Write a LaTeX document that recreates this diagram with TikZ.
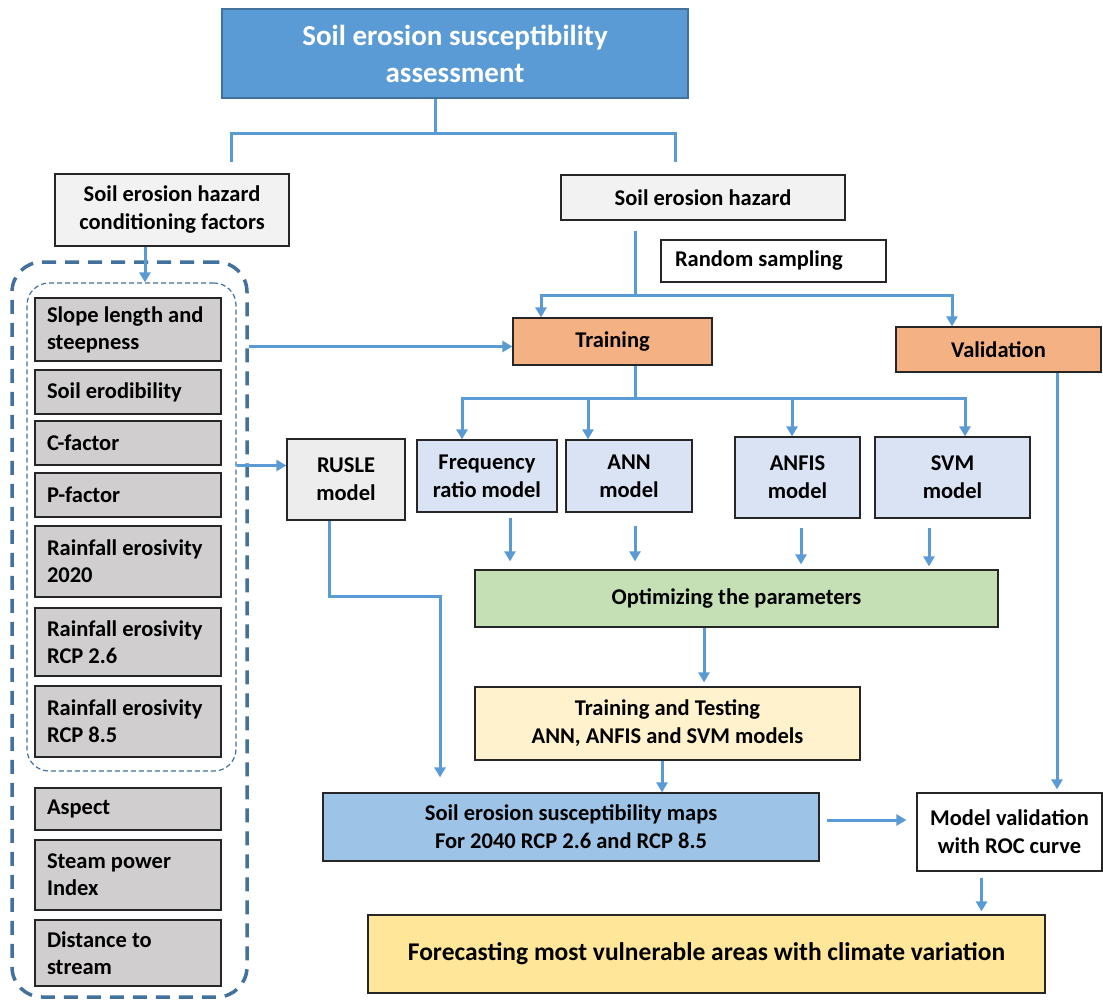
\documentclass[tikz,border=0pt]{standalone}
\usepackage{fontspec}
\setmainfont{Carlito}
\usetikzlibrary{arrows.meta}
\definecolor{titleblue}{HTML}{5B9BD5}
\definecolor{linkblue}{HTML}{5B9BD5}
\definecolor{dashblue}{HTML}{41719C}
\definecolor{factorgrey}{HTML}{D0CECE}
\definecolor{modelblue}{HTML}{DAE3F3}
\definecolor{orangebox}{HTML}{F4B183}
\definecolor{greenbox}{HTML}{C5E0B4}
\definecolor{creambox}{HTML}{FFF2CC}
\definecolor{mapblue}{HTML}{9DC3E6}
\definecolor{goldbox}{HTML}{FFE699}
\begin{document}
\begin{tikzpicture}[x=1pt, y=-1pt, font=\bfseries\fontsize{22.5}{28}\selectfont]
        \tikzstyle{box} = [draw=black!85, line width=1.2pt, rectangle, inner sep=0pt, align=flush center];
        \tikzstyle{factor} = [box, fill=factorgrey, minimum width=186pt, text width=162pt, align=flush left, font=\bfseries\fontsize{22.5}{27}\selectfont];
        \tikzstyle{model} = [box, fill=modelblue];
        \tikzstyle{link} = [draw=linkblue, line width=3pt];
        \tikzstyle{arrow} = [link, -{Triangle[length=10pt, width=11pt]}];

        \useasboundingbox (0,0) rectangle (1103,999);

        % top of the chart
        \node(title)[box, draw=dashblue, fill=titleblue, text=white, minimum width=466pt, minimum height=89pt, font=\bfseries\fontsize{29}{37}\selectfont] at (455,53.5) {Soil erosion susceptibility\\assessment};
        \node(factors)[box, fill=black!5, minimum width=234pt, minimum height=72pt] at (172,210) {Soil erosion hazard\\conditioning factors};
        \node(hazard)[box, fill=black!5, minimum width=284pt, minimum height=45pt] at (703,197.5) {Soil erosion hazard};
        \node(sampling)[box, fill=white, minimum width=225pt, minimum height=42pt, text width=197pt, align=flush left] at (773.5,261) {Random sampling};

        % conditioning factors
        \node(allfactors)[draw=dashblue, line width=3.5pt, dash pattern=on 14pt off 9pt, rounded corners=30pt, minimum width=235pt, minimum height=735pt] at (129.5,629.5) {};
        \node(inputs)[draw=dashblue, line width=1.2pt, dash pattern=on 5pt off 3pt, rounded corners=22pt, minimum width=209pt, minimum height=488pt] at (131.5,527) {};

        \node(slope)[factor, minimum height=63pt] at (128,329.5) {Slope length and\\steepness};
        \node(soil)[factor, minimum height=44pt] at (128,392) {Soil erodibility};
        \node(cfactor)[factor, minimum height=44pt] at (128,443) {C-factor};
        \node(pfactor)[factor, minimum height=44pt] at (128,495) {P-factor};
        \node(rain)[factor, minimum height=71pt] at (128,561.5) {Rainfall erosivity\\2020};
        \node(rainlow)[factor, minimum height=68pt] at (128,642) {Rainfall erosivity\\RCP 2.6};
        \node(rainhigh)[factor, minimum height=71pt] at (128,721.5) {Rainfall erosivity\\RCP 8.5};
        \node(aspect)[factor, minimum height=42pt] at (128,809) {Aspect};
        \node(spi)[factor, minimum height=70pt] at (128,875) {Steam power\\Index};
        \node(stream)[factor, minimum height=66pt] at (128,953) {Distance to\\stream};

        % models
        \node(training)[box, fill=orangebox, minimum width=199pt, minimum height=47pt] at (612.5,341.5) {Training};
        \node(validation)[box, fill=orangebox, minimum width=205pt, minimum height=45pt] at (998.5,349.5) {Validation};
        \node(rusle)[box, fill=black!7, minimum width=118pt, minimum height=81pt] at (346,479.5) {RUSLE\\model};
        \node(freq)[model, minimum width=140pt, minimum height=72pt] at (487,476) {Frequency\\ratio model};
        \node(ann)[model, minimum width=126pt, minimum height=72pt] at (629,476) {ANN\\model};
        \node(anfis)[model, minimum width=125pt, minimum height=81pt] at (797.5,477.5) {ANFIS\\model};
        \node(svm)[model, minimum width=155pt, minimum height=81pt] at (952.5,477.5) {SVM\\model};

        % results
        \node(opt)[box, fill=greenbox, minimum width=523pt, minimum height=57pt] at (736.5,598.5) {Optimizing the parameters};
        \node(tt)[box, fill=creambox, minimum width=385pt, minimum height=73pt] at (667.5,723.5) {Training and Testing\\ANN, ANFIS and SVM models};
        \node(maps)[box, fill=mapblue, minimum width=496pt, minimum height=68pt] at (571,827) {Soil erosion susceptibility maps\\For 2040 RCP 2.6 and RCP 8.5};
        \node(modval)[box, fill=white, minimum width=185pt, minimum height=78pt] at (1009.5,832) {Model validation\\with ROC curve};
        \node(forecast)[box, fill=goldbox, minimum width=677pt, minimum height=78pt, font=\bfseries\fontsize{25.5}{28}\selectfont] at (706.5,954) {Forecasting most vulnerable areas with climate variation};

        % connectors
        \coordinate(titlefork) at (435,133);
        \coordinate(hazardfork) at (635,295);
        \coordinate(trainfork) at (635,398);
        \coordinate(rusleturn) at (440,596);

        \draw [link] ([xshift=-20pt]title.south) -- (titlefork);
        \draw [link] ([xshift=59pt, yshift=11pt]factors.north) |- (titlefork) -| ([xshift=-28pt, yshift=12pt]hazard.north);
        \draw [arrow] ([xshift=-27pt]factors.south) -- ([xshift=-27pt]factors.south |- inputs.north);

        \draw [link] ([xshift=-68pt, yshift=-10pt]hazard.south) -- (hazardfork);
        \draw [arrow] (hazardfork) -| ([xshift=-71.5pt]training.north);
        \draw [arrow] (hazardfork) -| ([xshift=-46.5pt]validation.north);
        \draw [arrow] ([yshift=-5pt]training.west -| allfactors.east) -- ([yshift=-5pt]training.west);
        \draw [arrow] ([yshift=14pt]rusle.west -| inputs.east) -- ([yshift=14pt]rusle.west);

        \draw [link] ([xshift=22.5pt]training.south) -- (trainfork);
        \draw [arrow] (trainfork) -| ([xshift=-25pt]freq.north);
        \draw [arrow] (trainfork) -| ([xshift=-41pt]ann.north);
        \draw [arrow] (trainfork) -| ([xshift=-5.5pt]anfis.north);
        \draw [arrow] (trainfork) -| ([xshift=12.5pt]svm.north);

        \draw [arrow, shorten <=5pt, shorten >=8pt] ([xshift=23pt]freq.south) -- ([xshift=23pt]freq.south |- opt.north);
        \draw [arrow, shorten <=13pt, shorten >=8pt] ([xshift=6pt]ann.south) -- ([xshift=6pt]ann.south |- opt.north);
        \draw [arrow, shorten <=9pt, shorten >=5pt] ([xshift=3.5pt]anfis.south) -- ([xshift=3.5pt]anfis.south |- opt.north);
        \draw [arrow, shorten <=9pt, shorten >=3pt] ([xshift=-23.5pt]svm.south) -- ([xshift=-23.5pt]svm.south |- opt.north);

        \draw [arrow, shorten >=4pt] ([xshift=-32.5pt]opt.south) -- ([xshift=-32.5pt]opt.south |- tt.north);
        \draw [arrow] ([xshift=-5.5pt]tt.south) -- ([xshift=-5.5pt]tt.south |- maps.north);
        \draw [arrow, shorten >=15pt] ([xshift=-17pt]rusle.south) |- (rusleturn) -- (rusleturn |- maps.north);

        \draw [arrow, shorten <=7pt, shorten >=10pt] ([yshift=7pt]maps.east) -- ([yshift=7pt]maps.east -| modval.west);
        \draw [arrow, shorten >=3pt] ([xshift=58.5pt]validation.south) -- ([xshift=58.5pt]validation.south |- modval.north);
        \draw [arrow, shorten <=6pt, shorten >=3pt] ([xshift=-28pt]modval.south) -- ([xshift=-28pt]modval.south |- forecast.north);
    \end{tikzpicture}
\end{document}
